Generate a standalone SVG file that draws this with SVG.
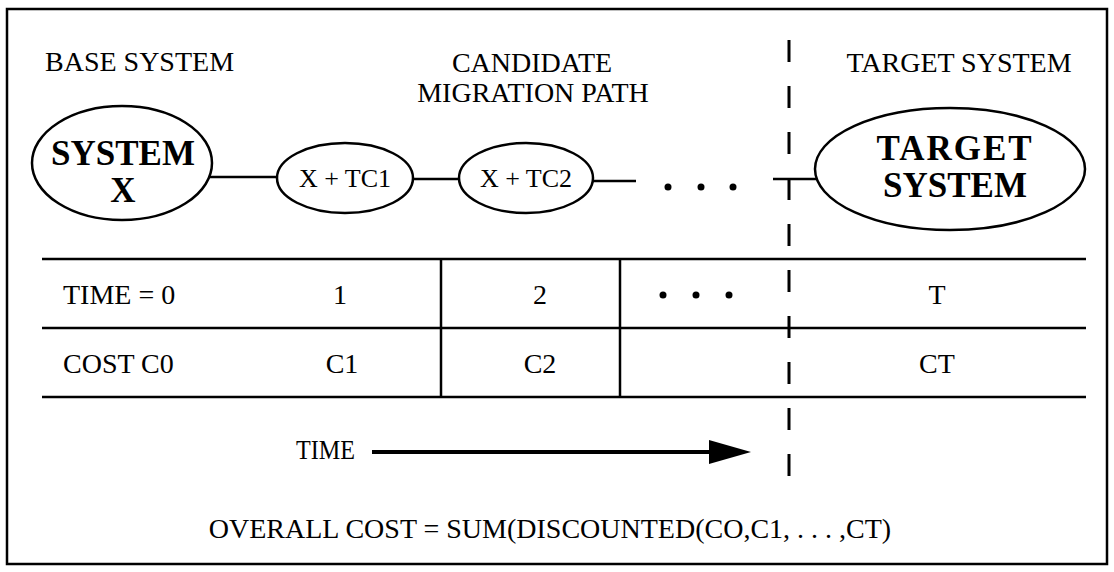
<svg xmlns="http://www.w3.org/2000/svg" width="1114" height="572" viewBox="0 0 1114 572">
<style>
.t{font-family:"Liberation Serif","Times New Roman",serif;font-size:28px;fill:#000}
.b{font-family:"Liberation Serif","Times New Roman",serif;font-size:35px;font-weight:bold;fill:#000}
.s{font-family:"Liberation Serif","Times New Roman",serif;font-size:26px;fill:#000}
.n{fill:#fff;stroke:#000;stroke-width:2.5}
.l{stroke:#000;stroke-width:2.5;fill:none}
</style>
<rect x="7" y="9" width="1100" height="555" fill="#fff" stroke="#000" stroke-width="2.5"/>
<g id="labels">
<text class="t" x="45" y="71">BASE SYSTEM</text>
<text class="t" x="532" y="72" text-anchor="middle">CANDIDATE</text>
<text class="t" x="533" y="102" text-anchor="middle">MIGRATION PATH</text>
<text class="t" x="959" y="72" text-anchor="middle">TARGET SYSTEM</text>
</g>
<g id="connectors">
<line class="l" x1="210" y1="177" x2="278" y2="177"/>
<line class="l" x1="412" y1="179" x2="460" y2="179"/>
<line class="l" x1="592" y1="181" x2="636" y2="181"/>
<line class="l" x1="773" y1="179" x2="816" y2="179"/>
<circle cx="668" cy="187" r="3.5"/>
<circle cx="701" cy="187" r="3.5"/>
<circle cx="733" cy="187" r="3.5"/>
<line x1="789" y1="40" x2="789" y2="478" stroke="#000" stroke-width="3" stroke-dasharray="22 24"/>
</g>
<g id="system-x">
<ellipse class="n" cx="122" cy="163" rx="90" ry="57"/>
<text class="b" x="123" y="165" text-anchor="middle">SYSTEM</text>
<text class="b" x="123" y="202" text-anchor="middle">X</text>
</g>
<g id="x-tc1">
<ellipse class="n" cx="345" cy="178" rx="68" ry="35"/>
<text class="s" x="345" y="187" text-anchor="middle">X + TC1</text>
</g>
<g id="x-tc2">
<ellipse class="n" cx="526" cy="178" rx="67" ry="35"/>
<text class="s" x="526" y="187" text-anchor="middle">X + TC2</text>
</g>
<g id="target-system">
<ellipse class="n" cx="950" cy="169" rx="135" ry="61"/>
<text class="b" x="955" y="160" text-anchor="middle" letter-spacing="2">TARGET</text>
<text class="b" x="955" y="197" text-anchor="middle">SYSTEM</text>
</g>
<g id="table">
<line class="l" x1="42" y1="259" x2="1086" y2="259"/>
<line class="l" x1="42" y1="328" x2="1086" y2="328"/>
<line class="l" x1="42" y1="397" x2="1086" y2="397"/>
<line class="l" x1="441" y1="259" x2="441" y2="397"/>
<line class="l" x1="620" y1="259" x2="620" y2="397"/>
<text class="t" x="63" y="304">TIME = 0</text>
<text class="t" x="340" y="304" text-anchor="middle">1</text>
<text class="t" x="540" y="304" text-anchor="middle">2</text>
<circle cx="663" cy="295" r="3.5"/>
<circle cx="696" cy="295" r="3.5"/>
<circle cx="729" cy="295" r="3.5"/>
<text class="t" x="937" y="304" text-anchor="middle">T</text>
<text class="t" x="63" y="373">COST C0</text>
<text class="t" x="342" y="373" text-anchor="middle">C1</text>
<text class="t" x="540" y="373" text-anchor="middle">C2</text>
<text class="t" x="937" y="373" text-anchor="middle">CT</text>
</g>
<g id="time-arrow">
<text class="t" x="296" y="459" font-size="24" textLength="59" lengthAdjust="spacingAndGlyphs">TIME</text>
<line x1="372" y1="452" x2="712" y2="452" stroke="#000" stroke-width="4"/>
<polygon points="709,440 751,452 709,464" fill="#000"/>
</g>
<text class="t" x="550" y="538" text-anchor="middle">OVERALL COST = SUM(DISCOUNTED(CO,C1, . . . ,CT)</text>
</svg>
